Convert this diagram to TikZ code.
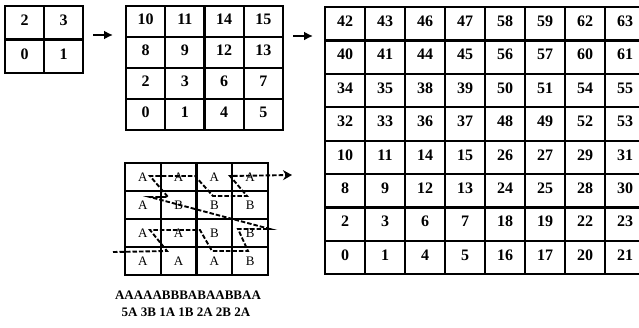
\documentclass[tikz,border=0pt]{standalone}
\usepackage{fontspec}
\setmainfont{Liberation Serif}
\usetikzlibrary{arrows.meta}

\tikzset{
  cell/.style={draw, line width=2.2pt, inner sep=0pt, text depth=5pt,
    font=\bfseries\fontsize{16}{16}\selectfont},
  abcell/.style={draw, line width=2.2pt, inner sep=0pt,
    minimum width=35.75pt, minimum height=28pt,
    font=\fontsize{13}{13}\selectfont},
  step arrow/.style={line width=2.4pt, -{Latex[length=9pt,width=9pt]}},
  zpath/.style={line width=1.9pt, dash pattern=on 4.5pt off 2pt,
    -{Stealth[length=9pt,width=10pt]}},
  runtext/.style={font=\bfseries\fontsize{13}{13}\selectfont, inner sep=0pt}
}

\begin{document}
\begin{tikzpicture}[x=1pt,y=-1pt]
\useasboundingbox (0,0) rectangle (639,327);

% 2x2
\foreach \r [count=\j from 0] in {{2,3},{0,1}}
  \foreach \v [count=\i from 0] in \r
    \node[cell, minimum width=39pt, minimum height=33.5pt]
      (a-\j-\i) at (24.5+39*\i, 22.75+33.5*\j) {\v};

% 4x4
\foreach \r [count=\j from 0] in {{10,11,14,15},{8,9,12,13},{2,3,6,7},{0,1,4,5}}
  \foreach \v [count=\i from 0] in \r
    \node[cell, minimum width=39.25pt, minimum height=31pt]
      (b-\j-\i) at (145.6+39.25*\i, 21.5+31*\j) {\v};

% 8x8
\foreach \r [count=\j from 0] in {
    {42,43,46,47,58,59,62,63},
    {40,41,44,45,56,57,60,61},
    {34,35,38,39,50,51,54,55},
    {32,33,36,37,48,49,52,53},
    {10,11,14,15,26,27,29,31},
    {8,9,12,13,24,25,28,30},
    {2,3,6,7,18,19,22,23},
    {0,1,4,5,16,17,20,21}}
  \foreach \v [count=\i from 0] in \r
    \node[cell, minimum width=40pt, minimum height=33.4pt]
      (c-\j-\i) at (345+40*\i, 23.7+33.4*\j) {\v};

\coordinate (s1) at (93,35);
\coordinate (t1) at (113,35);
\coordinate (s2) at (293,36);
\coordinate (t2) at (313,36);
\draw[step arrow] (s1) -- (t1);
\draw[step arrow] (s2) -- (t2);

% A/B blocks
\foreach \r [count=\j from 0] in {{A,A,A,A},{A,B,B,B},{A,A,B,B},{A,A,A,B}}
  \foreach \v [count=\i from 0] in \r
    \node[abcell] (d-\j-\i) at (142.9+35.75*\i, 177+28*\j) {\v};

% z-order scan
\coordinate (zin) at (113,252);
\coordinate (z1) at (167,251);
\coordinate (z2) at (150,230);
\coordinate (z3) at (200,230);
\coordinate (z4) at (212,251);
\coordinate (z5) at (248,251);
\coordinate (z6) at (238,229);
\coordinate (z7) at (270,229);
\coordinate (z8) at (150,197);
\coordinate (z9) at (168,197);
\coordinate (z10) at (150,176);
\coordinate (z11) at (195,176);
\coordinate (z12) at (213,196);
\coordinate (z13) at (247,196);
\coordinate (z14) at (230,176);
\coordinate (zout) at (292,175);
\draw[zpath] (zin) -- (z1) -- (z2) -- (z3) -- (z4) -- (z5) -- (z6) -- (z7)
  -- (z8) -- (z9) -- (z10) -- (z11) -- (z12) -- (z13) -- (z14) -- (zout);

\node[runtext] (seq) at (188,295) {AAAAABBBABAABBAA};
\node[runtext] (runs) at (186,312.5) {5A 3B 1A 1B 2A 2B 2A};
\end{tikzpicture}
\end{document}
